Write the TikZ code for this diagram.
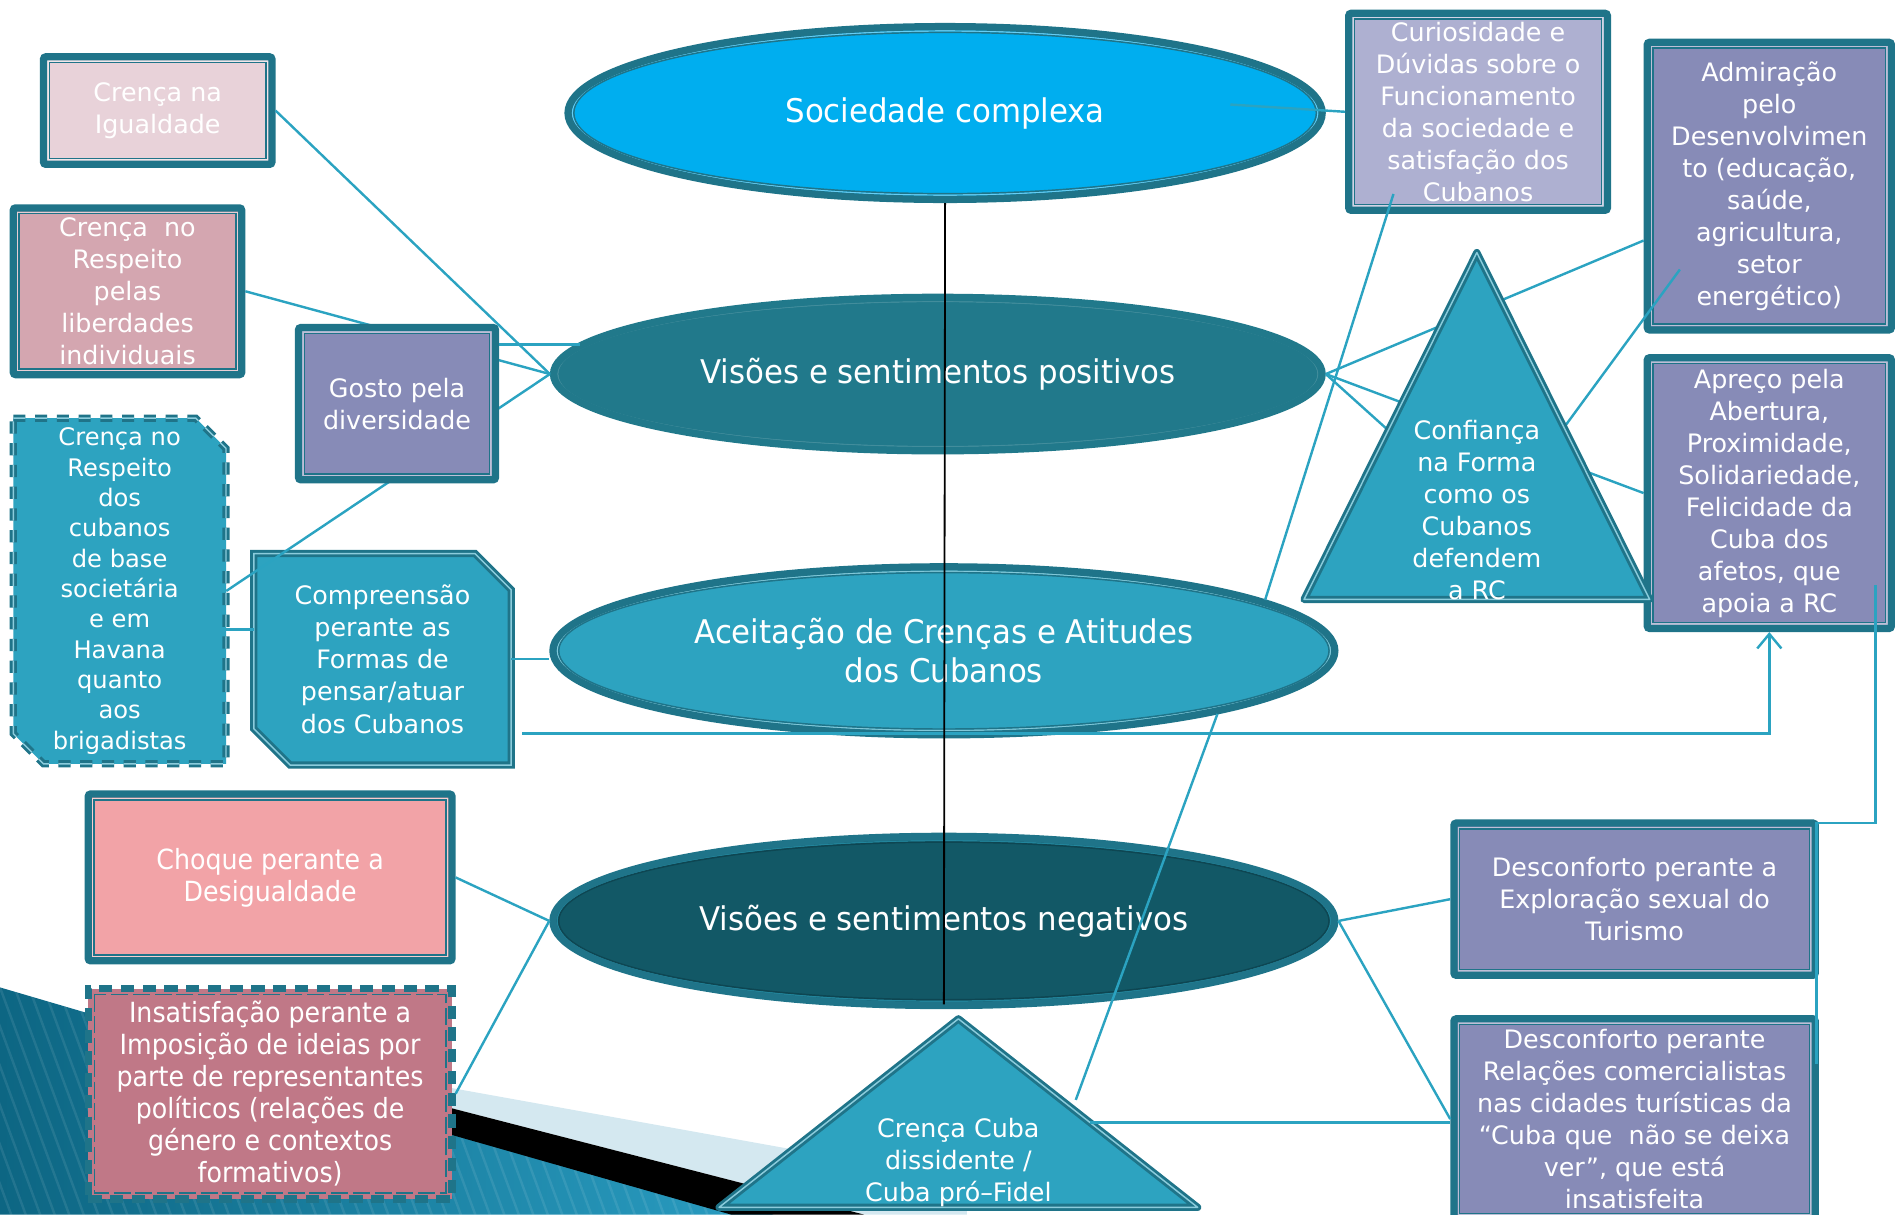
\documentclass[tikz,border=0pt]{standalone}
\usepackage{fontspec}
\setmainfont{DejaVu Sans}
\newfontfamily\ovalfont[FakeStretch=0.945]{DejaVu Sans}
\newfontfamily\narrowfont[FakeStretch=0.91]{DejaVu Sans}
\usepackage{tikz}
\usetikzlibrary{positioning, arrows.meta, shapes.geometric, calc}

\definecolor{rim}{HTML}{1F7489}
\definecolor{link}{HTML}{2BA3C1}
\definecolor{skyfill}{HTML}{00AEEF}
\definecolor{posfill}{HTML}{21798B}
\definecolor{tealfill}{HTML}{2DA3C0}
\definecolor{negfill}{HTML}{125866}
\definecolor{lilac}{HTML}{878BB7}
\definecolor{paleLilac}{HTML}{AEB0D1}
\definecolor{palePink}{HTML}{E8D2D9}
\definecolor{dustyPink}{HTML}{D4A6B0}
\definecolor{salmon}{HTML}{F2A3A7}
\definecolor{mauve}{HTML}{C07887}
\definecolor{wedgeDark}{HTML}{0D6683}
\definecolor{wedgeLight}{HTML}{2A9DC2}
\definecolor{bandLight}{HTML}{D4E8F0}

\newcommand\boxtext{\fontsize{21}{26.5}\selectfont}
\newcommand\smalltext{\fontsize{20}{25.1}\selectfont}
\newcommand\ovaltext{\ovalfont\fontsize{27}{32}\selectfont}
\newcommand\narrowtext{\narrowfont\fontsize{23}{26.5}\selectfont}

\tikzset{
  conn/.style={draw=link, line width=2pt},
  tag/.style={inner sep=0pt, text=white, align=center, font=\boxtext},
  rbox/.style={rectangle, fill=#1, draw=rim, line width=6pt, rounded corners=2pt,
    inner sep=0pt, text=white, align=center, font=\boxtext,
    path picture={
      \draw[#1!55!white, line width=1.2pt, solid, sharp corners]
        ([shift={(3.6pt,-3.6pt)}]path picture bounding box.north west) rectangle
        ([shift={(-3.6pt,3.6pt)}]path picture bounding box.south east);
      \draw[rim, line width=1.2pt, solid, sharp corners]
        ([shift={(4.8pt,-4.8pt)}]path picture bounding box.north west) rectangle
        ([shift={(-4.8pt,4.8pt)}]path picture bounding box.south east);
    }},
  dbox/.style={rectangle, fill=#1, draw=rim, line width=6pt, dash pattern=on 11pt off 7pt,
    inner sep=0pt, text=white, align=center, font=\boxtext,
    path picture={
      \draw[rim, line width=1.2pt, dash pattern=on 14pt off 4pt]
        ([shift={(5pt,-5pt)}]path picture bounding box.north west) rectangle
        ([shift={(-5pt,5pt)}]path picture bounding box.south east);
    }},
  oval/.style n args={4}{ellipse, fill=#1, draw=#2, line width=6pt, inner sep=0pt,
    text=white, align=center, font=\ovaltext,
    path picture={
      \draw[#3, line width=1.2pt] let \p1=($(path picture bounding box.north east)-(path picture bounding box.center)$) in
        (path picture bounding box.center) ellipse ({\x1-3.6pt} and {\y1-3.6pt});
      \draw[#4, line width=1.2pt] let \p1=($(path picture bounding box.north east)-(path picture bounding box.center)$) in
        (path picture bounding box.center) ellipse ({\x1-4.8pt} and {\y1-4.8pt});
    }},
  cham/.style={fill=tealfill, draw=rim, line width=2.4pt, double=tealfill!55!white,
    double distance=1.2pt, line join=miter},
  tri/.style={cham, line join=round}
}

\begin{document}
\begin{tikzpicture}[x=1pt, y=-1pt]
\useasboundingbox (0,0) rectangle (1568,1005);

% Draw slide background
\shade[left color=wedgeDark, right color=wedgeLight] (0,817) -- (640,1005) -- (0,1005) -- cycle;
\begin{scope}
  \clip (0,817) -- (640,1005) -- (0,1005) -- cycle;
  \foreach \s in {-300,-288,...,660}
    \draw[white, opacity=0.09, line width=2pt] (\s,817) -- ++(70,190);
\end{scope}
\fill[bandLight] (300,887) -- (800,977) -- (800,1005) -- (715,1005) -- (300,898) -- cycle;
\fill[black] (300,898) -- (715,1005) -- (605,1005) -- (300,918) -- cycle;

% Draw ellipses
\node[oval={skyfill}{rim}{skyfill!60!white}{rim}, minimum width=624pt, minimum height=143pt] (soc) at (782,93.5) {Sociedade complexa};
\node[oval={posfill}{posfill}{posfill!85!white}{posfill}, minimum width=636pt, minimum height=127pt] (pos) at (776,309.5) {Visões e sentimentos positivos};
\node[oval={tealfill}{rim}{tealfill!60!white}{rim}, minimum width=647pt, minimum height=139pt] (aceit) at (781,538.5) {Aceitação de Crenças e Atitudes\\dos Cubanos};
\node[oval={negfill}{rim}{negfill!40!tealfill}{negfill!80!black}, minimum width=647pt, minimum height=140pt] (neg) at (781,762) {Visões e sentimentos negativos};

% Draw left boxes
\node[rbox=palePink, minimum width=189pt, minimum height=89pt] (igual) at (130.5,91.5) {Crença na\\Igualdade};
\node[rbox=dustyPink, minimum width=189pt, minimum height=138pt] (liber) at (105.5,241) {Crença~~no\\Respeito\\pelas\\liberdades\\individuais};
\draw[cham, dash pattern=on 10pt off 8pt] (11,346) -- (162,346) -- (187,371) -- (187,632) -- (36,632) -- (11,607) -- cycle;
\node[tag, font=\smalltext, minimum width=176pt, minimum height=286pt] (cubanos) at (99,489) {Crença no\\Respeito\\dos\\cubanos\\de base\\societária\\e em\\Havana\\quanto\\aos\\brigadistas};
\draw[cham] (210,458) -- (393,458) -- (423,488) -- (423,633) -- (240,633) -- (210,603) -- cycle;
\node[tag, minimum width=213pt, minimum height=175pt] (comp) at (316.5,545.5) {Compreensão\\perante as\\Formas de\\pensar/atuar\\dos Cubanos};
\node[rbox=salmon, font=\narrowtext, minimum width=301pt, minimum height=138pt] (choque) at (223.5,726) {Choque perante a\\Desigualdade};
\node[dbox=mauve, font=\narrowtext, minimum width=301pt, minimum height=174pt] (insat) at (223.5,905) {Insatisfação perante a\\Imposição de ideias por\\parte de representantes\\políticos (relações de\\género e contextos\\formativos)};

% Draw right boxes
\node[rbox=paleLilac, minimum width=214pt, minimum height=163pt] (curios) at (1223,92.5) {Curiosidade e\\Dúvidas sobre o\\Funcionamento\\da sociedade e\\satisfação dos\\Cubanos};
\node[rbox=lilac, minimum width=202pt, minimum height=238pt] (admir) at (1464,154) {Admiração\\pelo\\Desenvolvimen\\to (educação,\\saúde,\\agricultura,\\setor\\energético)};
\node[rbox=lilac, minimum width=202pt, minimum height=224pt] (apreco) at (1464,408) {Apreço pela\\Abertura,\\Proximidade,\\Solidariedade,\\Felicidade da\\Cuba dos\\afetos, que\\apoia a RC};
\node[rbox=lilac, minimum width=299pt, minimum height=126pt] (explor) at (1352.5,744) {Desconforto perante a\\Exploração sexual do\\Turismo};
\node[rbox=lilac, minimum width=299pt, minimum height=166pt] (relac) at (1352.5,926) {Desconforto perante\\Relações comercialistas\\nas cidades turísticas da\\“Cuba que~ não se deixa\\ver”, que está\\insatisfeita};

% Draw bottom triangle
\coordinate (cubaTop) at (793,843);
\coordinate (cubaL) at (595,999);
\coordinate (cubaR) at (991,999);
\draw[tri] (cubaTop) -- (cubaR) -- (cubaL) -- cycle;
\node[tag] (cuba) at (793,962) {Crença Cuba\\dissidente /\\Cuba pró–Fidel};

% Points of the right triangle
\coordinate (confTop) at (1222,209);
\coordinate (confL) at (1079,496);
\coordinate (confR) at (1365,496);
\coordinate (confMid) at (1222,422);
\coordinate (confLow) at (1222,452);

% Draw connectors behind the diversity box
\draw[conn] (liber.east) -- (pos.west);
\draw[conn] (pos.west) -- (cubanos.east);
\node[rbox=lilac, minimum width=163pt, minimum height=126pt] (gosto) at (328.5,334) {Gosto pela\\diversidade};

% Draw left connectors
\coordinate (gostoR) at ([yshift=49pt]gosto.east);
\draw[conn] (gostoR) -- (gostoR -| pos.175);
\draw[conn] (igual.east) -- (pos.west);
\coordinate (cubanosR) at ([yshift=-32pt]cubanos.east);
\draw[conn] (cubanosR) -- (cubanosR -| comp.west);
\draw[conn] (comp.east) -- (comp.east -| aceit.west);
\coordinate (compLow) at ([shift={(9pt,-61.5pt)}]comp.east);
\draw[conn, -{Straight Barb[length=12pt,width=20pt]}] (compLow) -| (apreco.south);
\draw[conn] (choque.east) -- (neg.west);
\draw[conn] (insat.east) -- (neg.west);

% Draw right connectors
\coordinate (socIn) at ([shift={(236pt,7pt)}]soc.center);
\draw[conn] (socIn) -- (curios.west);
\coordinate (curiosIn) at ([shift={(-70pt,-68pt)}]curios.center);
\draw[conn] (curiosIn) -- (aceit.9);
\draw[conn] (pos.east) -- ([yshift=-45pt]admir.west);
\draw[conn] (pos.east) -- (apreco.west);
\draw[conn] (pos.east) -- (confMid);
\coordinate (admirIn) at ([shift={(-74pt,-69pt)}]admir.center);
\draw[conn] (admirIn) -- (confLow);
\coordinate (apIn) at ([shift={(-16pt,-76pt)}]apreco.east);
\draw[conn] (apIn) |- ([shift={(-2pt,-3pt)}]explor.north east) -- ([shift={(-2pt,-40pt)}]relac.north east);
\draw[conn] (neg.east) -- (explor.west);
\draw[conn] (neg.east) -- (relac.west);
\coordinate (cubaSide) at ($(cubaTop)!0.55!(cubaR)$);
\draw[conn] (cubaSide) -- (cubaSide -| relac.west);
\coordinate (cubaUp) at ($(cubaTop)!0.43!(cubaR)+(12,0)$);
\draw[conn] (cubaUp) -- (aceit.-13);

% Draw right triangle
\draw[tri] (confTop) -- (confR) -- (confL) -- cycle;
\node[tag] (conf) at (confMid) {Confiança\\na Forma\\como os\\Cubanos\\defendem\\a RC};

% Draw central axis
\draw[black, line width=1.5pt] (soc.south) -- ([yshift=4pt]neg.south);

\end{tikzpicture}
\end{document}
